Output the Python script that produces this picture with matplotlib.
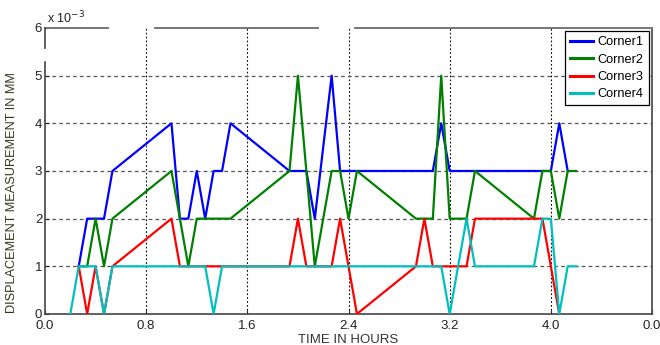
import matplotlib

matplotlib.use("Agg")
import matplotlib.pyplot as plt
import numpy as np

plt.rcParams["font.family"] = ["Liberation Sans", "DejaVu Sans"]

# sample times in minutes, displacement in units of 1e-3 mm
c1_min = [16, 20, 28, 32, 60, 64, 68, 72, 76, 80, 84, 88, 116, 124, 128, 136, 140,
          184, 188, 192, 240, 244, 248]
c1_val = [1, 2, 2, 3, 4, 2, 2, 3, 2, 3, 3, 4, 3, 3, 2, 5, 3, 3, 4, 3, 3, 4, 3]

c2_min = [16, 20, 24, 28, 32, 60, 68, 72, 88, 116, 120, 128, 136, 140, 144, 148,
          176, 184, 188, 192, 200, 204, 232, 236, 240, 244, 248, 252]
c2_val = [1, 1, 2, 1, 2, 3, 1, 2, 2, 3, 5, 1, 3, 3, 2, 3, 2, 2, 5, 2, 2, 3, 2, 3,
          3, 2, 3, 3]

c3_min = [16, 20, 24, 28, 32, 60, 64, 116, 120, 124, 136, 140, 148, 176, 180, 184,
          200, 204, 236, 244]
c3_val = [1, 0, 1, 0, 1, 2, 1, 1, 2, 1, 1, 2, 0, 1, 2, 1, 1, 2, 2, 0]

c4_min = [12, 16, 24, 28, 32, 76, 80, 84, 188, 192, 200, 204, 232, 236, 240, 244,
          248, 252]
c4_val = [0, 1, 1, 0, 1, 1, 0, 1, 1, 0, 2, 1, 1, 2, 2, 0, 1, 1]

labels = ["Corner1", "Corner2", "Corner3", "Corner4"]
colors = ["#0000ff", "#008000", "#ff0000", "#00bfbf"]

xticks = [0.0, 0.8, 1.6, 2.4, 3.2, 4.0, 4.8]
xticklabels = ["0.0", "0.8", "1.6", "2.4", "3.2", "4.0", "0.0"]
yticks = [0, 1, 2, 3, 4, 5, 6]

fig = plt.figure(figsize=(6.6, 3.45), dpi=100)
ax = fig.add_axes([0.0682, 0.0899, 0.9197, 0.829])

# grid (drawn by hand so the border gaps stay open)
for x in xticks[1:-1]:
    ax.axvline(x, color="black", lw=0.8, ls=(0, (1.5, 2)), zorder=1)
for y in yticks[1:-1]:
    ax.axhline(y, color="#555555", lw=0.9, ls=(0, (3, 2.5)), zorder=1)

series = [(c1_min, c1_val), (c2_min, c2_val), (c3_min, c3_val), (c4_min, c4_val)]
for (t, v), lab, col in zip(series, labels, colors):
    ax.plot(np.array(t) / 60.0, v, color=col, lw=1.6, label=lab, zorder=3)

ax.set_xlim(0, 4.8)
ax.set_ylim(0, 6)
ax.set_xticks(xticks)
ax.set_xticklabels(xticklabels)
ax.set_yticks(yticks)
ax.tick_params(direction="in", length=3, labelsize=9.5, colors="#222222", pad=4)
ax.tick_params(axis="y", pad=2)

# border with the gaps seen in the original capture
ax.spines["top"].set_visible(False)
ax.spines["left"].set_visible(False)
for s in ("bottom", "right"):
    ax.spines[s].set_color("#444444")
    ax.spines[s].set_linewidth(1.2)
for x0, x1 in [(0, 0.104), (0.181, 0.450), (0.511, 1.0)]:
    ax.plot([x0, x1], [1, 1], color="#777777", lw=1.4, transform=ax.transAxes,
            clip_on=False, zorder=5)
for y0, y1 in [(0, 0.881), (0.930, 1.0)]:
    ax.plot([0, 0], [y0, y1], color="#444444", lw=1.2, transform=ax.transAxes,
            clip_on=False, zorder=5)

fig.text(47 / 660, 1 - 23 / 345, r"x 10$^{-3}$", fontsize=9, color="#222222",
         va="baseline", ha="left")

ax.set_xlabel("TIME IN HOURS", fontsize=9.5, color="#333333", labelpad=2)
ax.set_ylabel("DISPLACEMENT MEASUREMENT IN MM", fontsize=9.2, color="#3a3320")
ax.yaxis.set_label_coords(-0.045, 0.423)

leg = ax.legend(loc="upper right", fontsize=9.2, handlelength=1.8, handletextpad=0.35,
                labelspacing=0.42, borderpad=0.4, borderaxespad=0.25,
                fancybox=False, framealpha=1, edgecolor="black")
leg.get_frame().set_linewidth(0.9)
for line in leg.get_lines():
    line.set_linewidth(2.2)

fig.savefig("out.png", dpi=100)
